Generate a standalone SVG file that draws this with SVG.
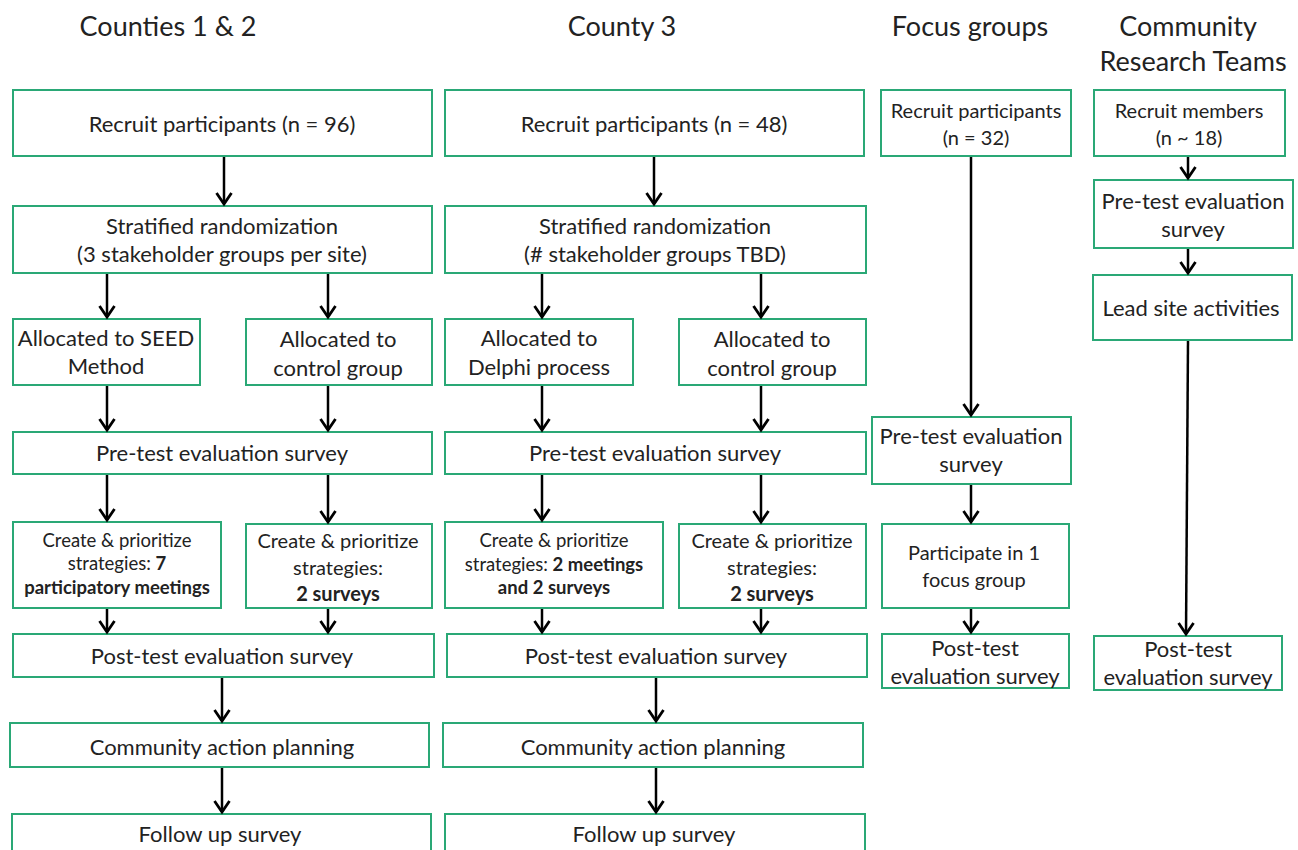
<svg xmlns="http://www.w3.org/2000/svg" width="1298" height="850" viewBox="0 0 1298 850">
<style>
  .box{fill:#fff;stroke:#2aa876;stroke-width:2}
  text{font-family:Lato,"Liberation Sans",sans-serif;fill:#222;text-anchor:middle;dominant-baseline:central}
  .t{font-size:27px}
  .m{font-size:22px}
  .s{font-size:20px}
  .xs{font-size:18.5px}
  .b{font-weight:bold}
  .c line{stroke:#000;stroke-width:2.5;marker-end:url(#ah)}
</style>
<defs>
  <marker id="ah" markerUnits="userSpaceOnUse" markerWidth="24" markerHeight="24" viewBox="-12 -12 24 24" refX="0" refY="0" orient="auto" overflow="visible">
    <path d="M-11,-7.5 L0,0 L-11,7.5" fill="none" stroke="#000" stroke-width="2.8"/>
  </marker>
</defs>
<rect width="1298" height="850" fill="#fff"/>

<g id="titles">
  <text class="t" x="168" y="25">Counties 1 &amp; 2</text>
  <text class="t" x="622" y="25">County 3</text>
  <text class="t" x="970" y="25">Focus groups</text>
  <text class="t" x="1188" y="25">Community</text>
  <text class="t" x="1193" y="60">Research Teams</text>
</g>

<!-- Column 1 -->
<g id="c1-recruit"><rect class="box" x="13" y="90" width="419" height="66"/><text class="m" x="222" y="123">Recruit participants (n = 96)</text></g>
<g id="c1-strat"><rect class="box" x="13" y="206" width="419" height="67"/><text class="m" x="222" y="225">Stratified randomization</text><text class="m" x="222" y="253">(3 stakeholder groups per site)</text></g>
<g id="c1-seed"><rect class="box" x="13" y="319" width="187" height="66"/><text class="m" x="106" y="337">Allocated to SEED</text><text class="m" x="106" y="365">Method</text></g>
<g id="c1-ctrl"><rect class="box" x="246" y="319" width="186" height="66"/><text class="m" x="338" y="338">Allocated to</text><text class="m" x="338" y="367">control group</text></g>
<g id="c1-pre"><rect class="box" x="13" y="432" width="419" height="42"/><text class="m" x="222" y="452">Pre-test evaluation survey</text></g>
<g id="c1-create-seed"><rect class="box" x="13" y="522" width="208" height="86"/><text class="xs" x="117" y="540">Create &amp; prioritize</text><text class="xs" x="117" y="563">strategies: <tspan class="b">7</tspan></text><text class="xs b" x="117" y="587">participatory meetings</text></g>
<g id="c1-create-ctrl"><rect class="box" x="246" y="524" width="186" height="84"/><text class="s" x="338" y="540">Create &amp; prioritize</text><text class="s" x="338" y="567">strategies:</text><text class="s b" x="338" y="593">2 surveys</text></g>
<g id="c1-post"><rect class="box" x="13" y="634" width="421" height="43"/><text class="m" x="222" y="655">Post-test evaluation survey</text></g>
<g id="c1-cap"><rect class="box" x="10" y="723" width="419" height="44"/><text class="m" x="222" y="746">Community action planning</text></g>
<g id="c1-follow"><rect class="box" x="12" y="814" width="419" height="50"/><text class="m" x="220" y="833">Follow up survey</text></g>

<!-- Column 2 -->
<g id="c2-recruit"><rect class="box" x="445" y="90" width="419" height="66"/><text class="m" x="654" y="123">Recruit participants (n = 48)</text></g>
<g id="c2-strat"><rect class="box" x="445" y="206" width="421" height="67"/><text class="m" x="655" y="225">Stratified randomization</text><text class="m" x="655" y="253">(# stakeholder groups TBD)</text></g>
<g id="c2-delphi"><rect class="box" x="445" y="319" width="188" height="66"/><text class="m" x="539" y="337">Allocated to</text><text class="m" x="539" y="366">Delphi process</text></g>
<g id="c2-ctrl"><rect class="box" x="679" y="319" width="187" height="66"/><text class="m" x="772" y="338">Allocated to</text><text class="m" x="772" y="367">control group</text></g>
<g id="c2-pre"><rect class="box" x="445" y="432" width="421" height="42"/><text class="m" x="655" y="452">Pre-test evaluation survey</text></g>
<g id="c2-create-delphi"><rect class="box" x="445" y="522" width="218" height="86"/><text class="xs" x="554" y="540">Create &amp; prioritize</text><text class="xs" x="554" y="564">strategies: <tspan class="b">2 meetings</tspan></text><text class="xs b" x="554" y="587">and 2 surveys</text></g>
<g id="c2-create-ctrl"><rect class="box" x="679" y="524" width="187" height="84"/><text class="s" x="772" y="540">Create &amp; prioritize</text><text class="s" x="772" y="567">strategies:</text><text class="s b" x="772" y="593">2 surveys</text></g>
<g id="c2-post"><rect class="box" x="447" y="634" width="420" height="43"/><text class="m" x="656" y="655">Post-test evaluation survey</text></g>
<g id="c2-cap"><rect class="box" x="443" y="723" width="420" height="44"/><text class="m" x="653" y="746">Community action planning</text></g>
<g id="c2-follow"><rect class="box" x="445" y="814" width="420" height="50"/><text class="m" x="654" y="833">Follow up survey</text></g>

<!-- Focus groups -->
<g id="fg-recruit"><rect class="box" x="881" y="90" width="190" height="66"/><text class="s" x="976" y="110">Recruit participants</text><text class="s" x="976" y="137">(n = 32)</text></g>
<g id="fg-pre"><rect class="box" x="872" y="417" width="199" height="67"/><text class="m" x="971" y="435">Pre-test evaluation</text><text class="m" x="971" y="463">survey</text></g>
<g id="fg-part"><rect class="box" x="882" y="524" width="187" height="84"/><text class="s" x="974" y="552">Participate in 1</text><text class="s" x="974" y="579">focus group</text></g>
<g id="fg-post"><rect class="box" x="882" y="634" width="187" height="54"/><text class="m" x="975" y="647">Post-test</text><text class="m" x="975" y="675">evaluation survey</text></g>

<!-- Community Research Teams -->
<g id="crt-recruit"><rect class="box" x="1094" y="90" width="191" height="66"/><text class="s" x="1189" y="110">Recruit members</text><text class="s" x="1189" y="137">(n ~ 18)</text></g>
<g id="crt-pre"><rect class="box" x="1094" y="180" width="199" height="68"/><text class="m" x="1193" y="200">Pre-test evaluation</text><text class="m" x="1193" y="228">survey</text></g>
<g id="crt-lead"><rect class="box" x="1093" y="275" width="199" height="65"/><text class="m" x="1191" y="307">Lead site activities</text></g>
<g id="crt-post"><rect class="box" x="1094" y="636" width="188" height="54"/><text class="m" x="1188" y="648">Post-test</text><text class="m" x="1188" y="676">evaluation survey</text></g>

<g id="connectors" class="c">
  <line x1="224" y1="157" x2="224" y2="204"/>
  <line x1="107" y1="274" x2="107" y2="317"/>
  <line x1="328" y1="274" x2="328" y2="317"/>
  <line x1="107" y1="386" x2="107" y2="430"/>
  <line x1="328" y1="386" x2="328" y2="430"/>
  <line x1="107" y1="475" x2="107" y2="520"/>
  <line x1="328" y1="475" x2="328" y2="522"/>
  <line x1="107" y1="609" x2="107" y2="632"/>
  <line x1="328" y1="609" x2="328" y2="632"/>
  <line x1="222" y1="678" x2="222" y2="721"/>
  <line x1="222" y1="768" x2="222" y2="812"/>

  <line x1="654" y1="157" x2="654" y2="204"/>
  <line x1="542" y1="274" x2="542" y2="317"/>
  <line x1="761" y1="274" x2="761" y2="317"/>
  <line x1="542" y1="386" x2="542" y2="430"/>
  <line x1="761" y1="386" x2="761" y2="430"/>
  <line x1="542" y1="475" x2="542" y2="520"/>
  <line x1="761" y1="475" x2="761" y2="522"/>
  <line x1="542" y1="609" x2="542" y2="632"/>
  <line x1="761" y1="609" x2="761" y2="632"/>
  <line x1="656" y1="678" x2="656" y2="721"/>
  <line x1="656" y1="768" x2="656" y2="812"/>

  <line x1="971" y1="157" x2="971" y2="415"/>
  <line x1="971" y1="485" x2="971" y2="522"/>
  <line x1="971" y1="609" x2="971" y2="632"/>

  <line x1="1188" y1="157" x2="1188" y2="178"/>
  <line x1="1188" y1="249" x2="1188" y2="273"/>
  <line x1="1188" y1="341" x2="1186" y2="634"/>
</g>
</svg>
